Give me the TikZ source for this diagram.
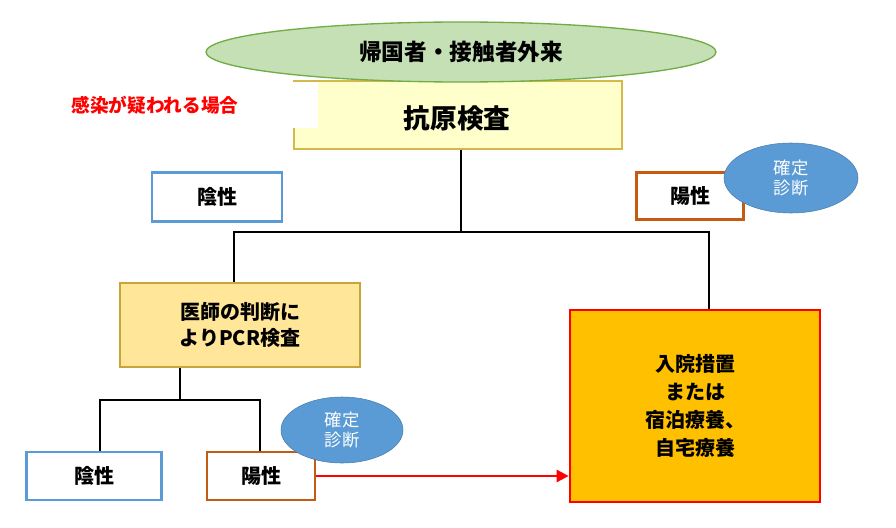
\documentclass[tikz,border=0pt]{standalone}
\usepackage{fontspec}
\setmainfont{Noto Sans CJK JP}
\usetikzlibrary{shapes.geometric,arrows.meta}
\definecolor{gy}{HTML}{FFFFCC}\definecolor{gb}{HTML}{D4B84A}
\definecolor{eg}{HTML}{C5E0B4}\definecolor{egb}{HTML}{70AD47}
\definecolor{bl}{HTML}{5B9BD5}\definecolor{or}{HTML}{C55A11}
\definecolor{py}{HTML}{FFE699}\definecolor{pyb}{HTML}{C9A43A}
\definecolor{am}{HTML}{FFC000}
\begin{document}
\begin{tikzpicture}[x=0.75pt,y=-0.75pt,
 box/.style={draw,line width=2.2pt,fill=white,inner sep=0pt,font=\bfseries\fontsize{15}{18}\selectfont},
 negbox/.style={box,draw=bl},posbox/.style={box,draw=or},
 conf/.style={ellipse,fill=bl,draw=bl!80!black,text=white,inner sep=0pt,align=center,font=\fontsize{13}{15}\selectfont},
 ln/.style={line width=2pt}]
\useasboundingbox (0,0) rectangle (896,528);
\node[draw=gb,fill=gy,line width=1.2pt,minimum width=328*0.75pt,minimum height=68*0.75pt,anchor=north west] (ag) at (293,80) {};
\node[font=\bfseries\fontsize{20}{24}\selectfont] (agt) at (457,118) {抗原検査};
\node[ellipse,draw=egb,fill=eg,line width=1pt,minimum width=510*0.75pt,minimum height=60*0.75pt,font=\bfseries\fontsize{17}{20}\selectfont] (out) at (461,52) {帰国者・接触者外来};
\node[fill=white,minimum width=300*0.75pt,minimum height=46*0.75pt,anchor=north west] (wb) at (18,82) {};
\node[text=red,font=\bfseries\fontsize{14}{17}\selectfont] (sus) at (155,105) {感染が疑われる場合};
\node[negbox,minimum width=130*0.75pt,minimum height=49*0.75pt] (n1) at (217,197) {陰性};
\node[posbox,minimum width=107*0.75pt,minimum height=47*0.75pt] (p1) at (690,196) {陽性};
\node[conf,minimum width=134*0.75pt,minimum height=70*0.75pt] (c1) at (791,178) {確定\\診断};
\node[draw=pyb,fill=py,line width=1.2pt,minimum width=240*0.75pt,minimum height=84*0.75pt,align=center,font=\bfseries\fontsize{15}{20}\selectfont] (pcr) at (240,325) {医師の判断に\\よりPCR検査};
\node[draw=red,fill=am,line width=2pt,minimum width=250*0.75pt,minimum height=192*0.75pt,align=center,font=\bfseries\fontsize{15}{21}\selectfont] (hosp) at (695,406) {入院措置\\または\\宿泊療養、\\自宅療養};
\node[negbox,minimum width=135*0.75pt,minimum height=48*0.75pt] (n2) at (94,476) {陰性};
\node[posbox,minimum width=108*0.75pt,minimum height=48*0.75pt] (p2) at (261,476) {陽性};
\node[conf,minimum width=122*0.75pt,minimum height=66*0.75pt] (c2) at (342,430) {確定\\診断};
\coordinate (j1) at (461,232);\coordinate (l1) at (234,232);\coordinate (r1) at (709,232);
\coordinate (j2) at (180,400);\coordinate (l2) at (100,400);\coordinate (r2) at (260,400);
\draw[ln] (ag.south-|j1) -- (j1);
\draw[ln] (pcr.north-|l1) -- (l1) -- (r1) -- (hosp.north-|r1);
\draw[ln] (pcr.south-|j2) -- (j2);
\draw[ln] (n2.north-|l2) -- (l2) -- (r2) -- (p2.north-|r2);
\draw[red,line width=2pt,-{Triangle[length=9pt,width=9pt]}] (p2.east) -- (hosp.west|-p2.east);
\end{tikzpicture}
\end{document}
